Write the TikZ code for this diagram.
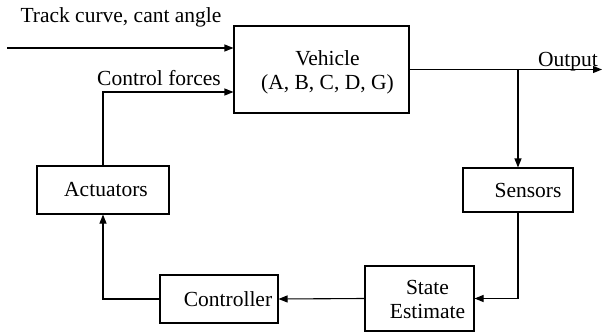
\documentclass[tikz,border=0pt]{standalone}
\usepackage{fontspec}
\setmainfont{Liberation Serif}
\usetikzlibrary{arrows.meta}

\tikzset{
  blk/.style={draw, line width=1.1pt, inner sep=0pt},
  sig/.style={line width=1.1pt, -{Triangle[length=9pt,width=7pt]}},
}

\begin{document}
\begin{tikzpicture}[x=1pt,y=-1pt,font=\fontsize{21.5}{24}\selectfont]
      \useasboundingbox (0,0) rectangle (603,332);
      % blocks
      \node[blk, minimum width=175pt, minimum height=87pt,
        label={[align=center,xshift=6pt,yshift=-3pt]center:Vehicle\\(A, B, C, D, G)}] (veh) at (321.5,69.5) {};
      \node[blk, minimum width=132pt, minimum height=48pt,
        label={[xshift=3pt]center:Actuators}] (act) at (103,190) {};
      \node[blk, minimum width=110pt, minimum height=44pt,
        label={[xshift=10pt]center:Sensors}] (sen) at (518,190) {};
      \node[blk, minimum width=109pt, minimum height=65pt,
        label={[align=center,xshift=8pt,yshift=-1pt]center:State\\Estimate}] (est) at (419.5,298.5) {};
      \node[blk, minimum width=118pt, minimum height=48pt,
        label={[xshift=9pt]center:Controller}] (ctl) at (219,299) {};
      % signals
      \coordinate (trk) at (7,48);
      \coordinate (out) at (602,69.5);
      \draw[sig] (trk) -- ([yshift=21.5pt]veh.west);
        \node (trklbl) at (121,17) {Track curve, cant angle};
      \draw[sig] (act.north) |- ([yshift=-22.5pt]veh.west);
        \node (cflbl) at (159,78) {Control forces};
      \draw[sig] (veh.east) -- (out);
        \node (outlbl) at (568,62) {Output};
      \draw[sig] (veh.east -| sen.north) -- (sen.north);
      \draw[sig] (sen.south) |- (est.east);
      \draw[sig] (est.west) -- (ctl.east);
      \draw[sig] (ctl.west) -| (act.south);
    \end{tikzpicture}
\end{document}
